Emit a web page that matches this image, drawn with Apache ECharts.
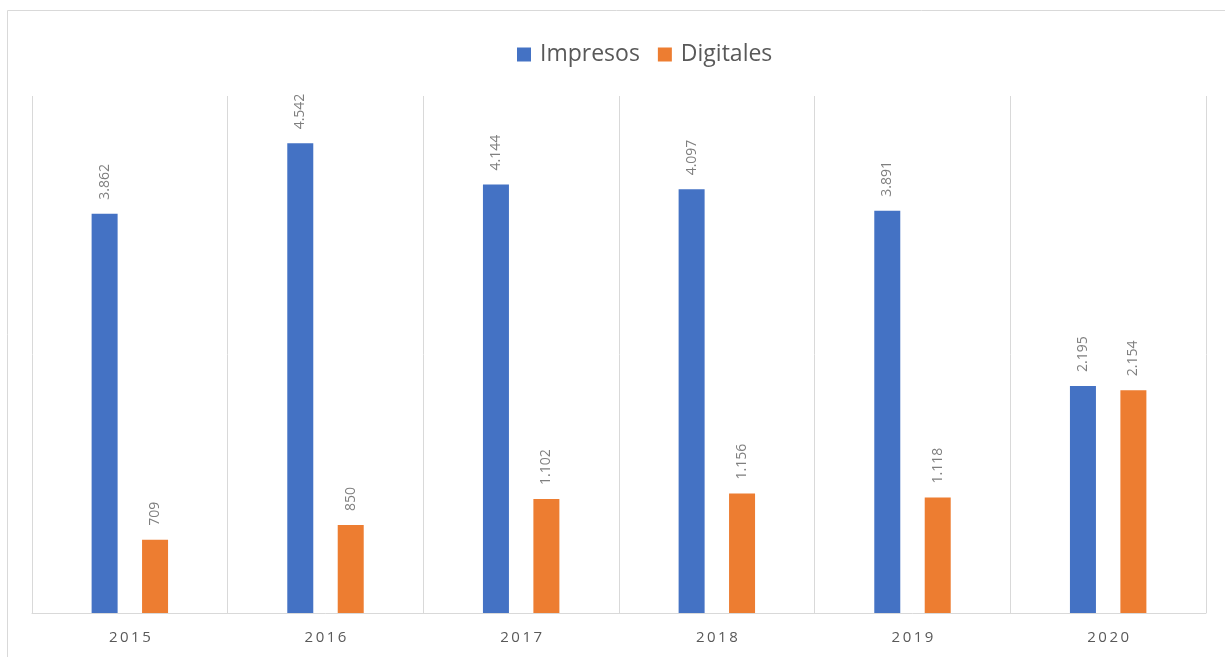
<!DOCTYPE html>
<html>
<head>
<meta charset="utf-8">
<script src="https://cdn.jsdelivr.net/npm/echarts@6/dist/echarts.min.js"></script>
<style>
  html, body { margin: 0; padding: 0; background: #fff; }
  #main { width: 1225px; height: 657px; }
</style>
</head>
<body>
<div id="main"></div>
<script>
var years = ["2015", "2016", "2017", "2018", "2019", "2020"];
var impresos = [3862, 4542, 4144, 4097, 3891, 2195];
var digitales = [709, 850, 1102, 1156, 1118, 2154];

var chart = echarts.init(document.getElementById("main"));

// separador de miles con punto, como en el original
function fmt(v) {
    return String(v).replace(/\B(?=(\d{3})+(?!\d))/g, ".");
}

var barLabel = {
    show: true,
    position: "top",
    rotate: 90,
    align: "left",
    verticalAlign: "middle",
    distance: 14,
    color: "#7f7f7f",
    fontSize: 14,
    fontFamily: "Open Sans",
    formatter: function (p) { return fmt(p.value); }
};

chart.setOption({
    animation: false,
    graphic: [{
        type: "rect",
        shape: { x: 7.5, y: 10.5, width: 1230, height: 670 },
        style: { fill: null, stroke: "#d9d9d9", lineWidth: 1 },
        silent: true
    }],
    legend: {
        top: 38,
        left: 512,
        itemWidth: 14,
        itemHeight: 14,
        itemGap: 18,
        icon: "rect",
        textStyle: { fontSize: 23, color: "#595959", fontFamily: "Open Sans", padding: [0, 0, 0, 4] },
        data: ["Impresos", "Digitales"]
    },
    grid: { left: 32, right: 19, top: 96, bottom: 44 },
    xAxis: {
        type: "category",
        data: years,
        axisLine: { lineStyle: { color: "#d9d9d9", width: 1 } },
        axisTick: { show: false },
        splitLine: { show: true, lineStyle: { color: "#d9d9d9", width: 1 } },
        axisLabel: {
            color: "#595959",
            fontSize: 15,
            fontFamily: "Open Sans",
            margin: 17,
            formatter: function (v) { return v.split("").join("\u2009"); }
        }
    },
    yAxis: {
        type: "value",
        min: 0,
        max: 5000,
        show: false,
        splitLine: { show: false }
    },
    series: [{
        name: "Impresos",
        type: "bar",
        data: impresos,
        barWidth: 26,
        barGap: "94%",
        itemStyle: { color: "#4472c4" },
        label: barLabel
    }, {
        name: "Digitales",
        type: "bar",
        data: digitales,
        barWidth: 26,
        itemStyle: { color: "#ed7d31" },
        label: barLabel
    }]
});
</script>
</body>
</html>
